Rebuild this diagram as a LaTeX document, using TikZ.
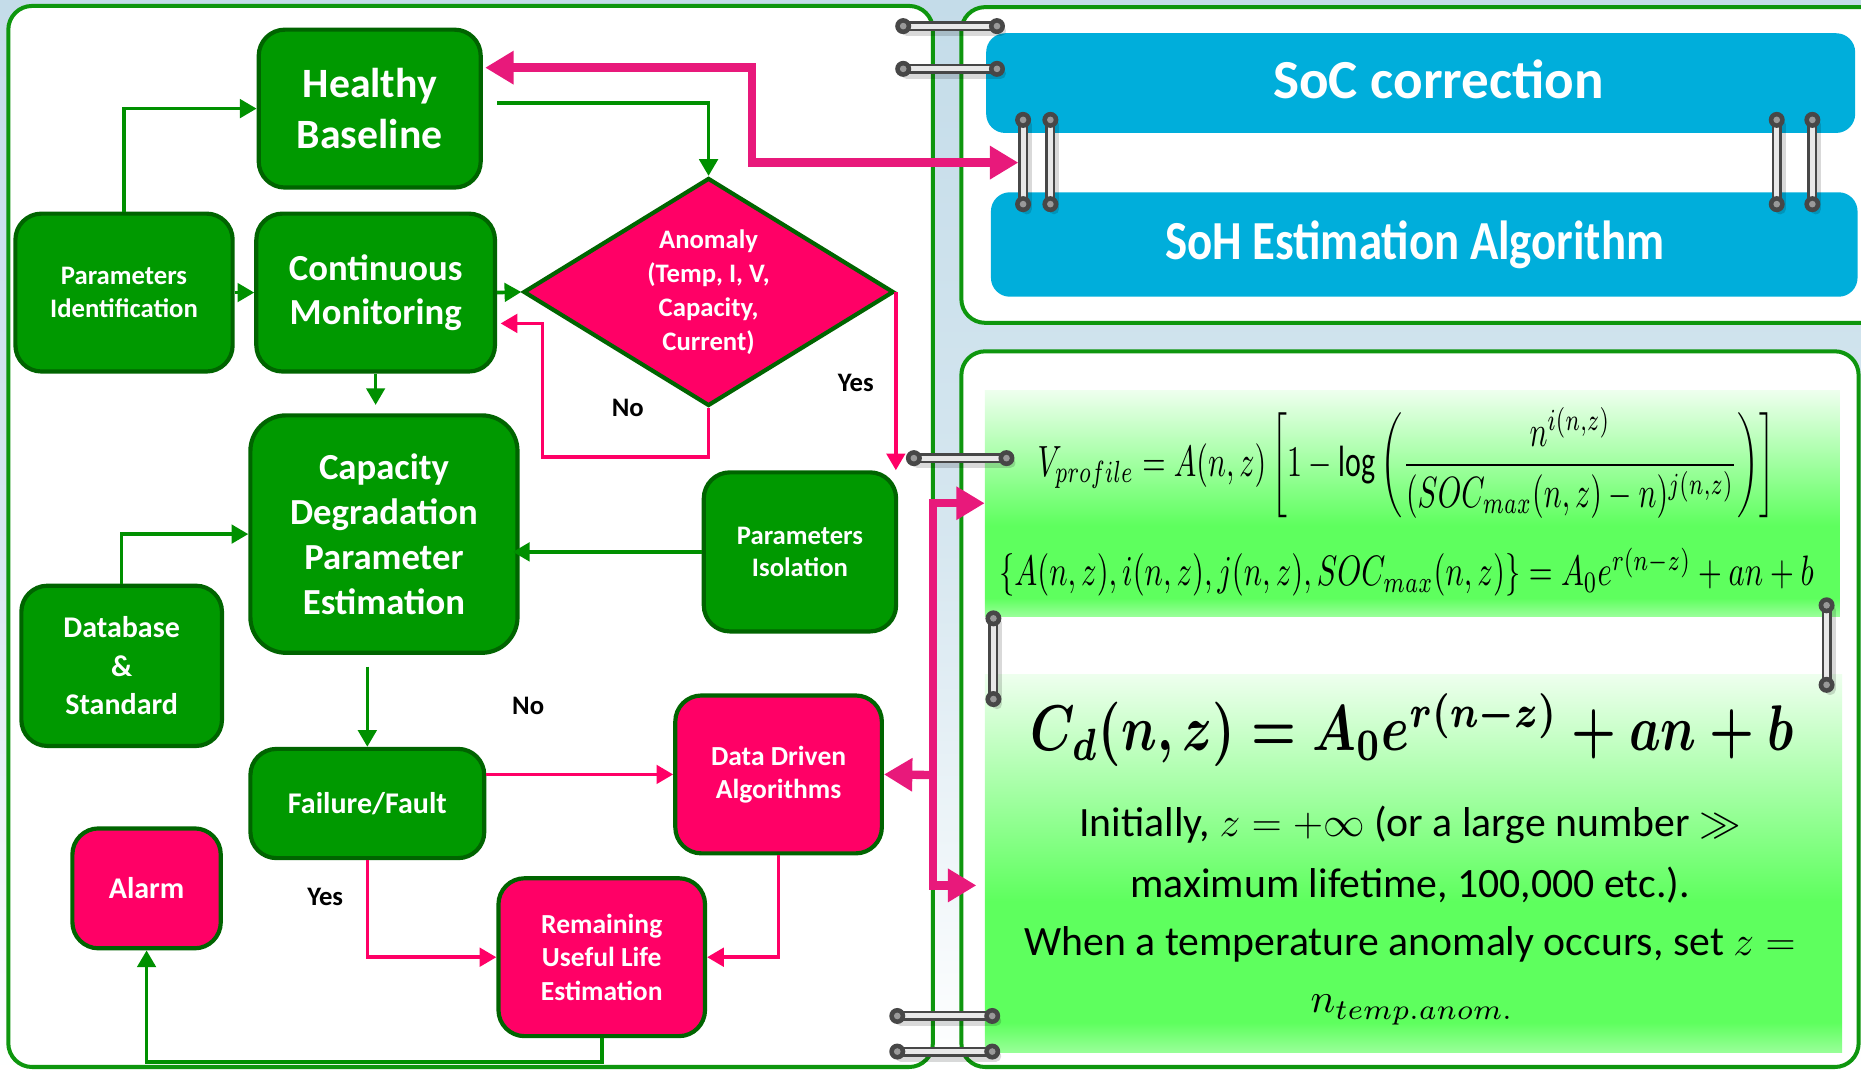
\documentclass[tikz,border=0pt]{standalone}
\usepackage{fontspec}
\setmainfont{Carlito}
\usepackage{amsmath}
\usetikzlibrary{shapes.geometric,arrows.meta,calc}

\definecolor{nodegreen}{HTML}{009900}
\definecolor{edgegreen}{HTML}{006400}
\definecolor{linkgreen}{HTML}{009000}
\definecolor{alertpink}{HTML}{FF0066}
\definecolor{busmagenta}{HTML}{E8197B}
\definecolor{panelgreen}{HTML}{0E960E}
\definecolor{boxblue}{HTML}{00AEDB}
\definecolor{skyblue}{HTML}{C4DCE9}
\definecolor{gtop}{HTML}{EEFFEE}
\definecolor{gmid}{HTML}{5EFF5E}
\definecolor{gbot}{HTML}{99FF99}
\definecolor{ringdark}{HTML}{474747}
\definecolor{ringlight}{HTML}{E8E8E8}

% light green wash of the formula cards: pale at the top, saturated near the bottom
\pgfdeclareverticalshading{formulagreen}{100bp}{color(0bp)=(gbot); color(25bp)=(gbot); color(29bp)=(gmid); color(45bp)=(gmid); color(75bp)=(gtop); color(100bp)=(gtop)}

\newcommand\setfs[2]{\fontsize{#1}{#2}\selectfont}

% a metal binder ring between two points
\newcommand\binderring[2]{%
  \draw[line width=6.5pt, black, opacity=0.15, line cap=round] ($(#1)+(3,4)$) -- ($(#2)+(3,4)$);
  \draw[line width=6pt, ringdark, line cap=round] (#1) -- (#2);
  \draw[line width=3pt, ringlight, shorten <=4pt, shorten >=4pt] (#1) -- (#2);
  \fill[ringdark] (#1) circle (4.8pt);
  \fill[ringdark] (#2) circle (4.8pt);
  \fill[gray!80] (#1) circle (2pt);
  \fill[gray!80] (#2) circle (2pt);
}

\begin{document}
\begin{tikzpicture}[x=0.025cm, y=-0.025cm,
  box/.style={rectangle, rounded corners=0.55cm, draw=edgegreen, line width=2.5pt,
              text=white, align=center, inner sep=2pt},
  gbox/.style={box, fill=nodegreen},
  pbox/.style={box, fill=alertpink},
  panel/.style={draw=panelgreen, line width=2.4pt, fill=white, rounded corners=0.5cm},
  bluebox/.style={rectangle, rounded corners=0.4cm, fill=boxblue},
  bluetext/.style={text=white, font=\bfseries\setfs{33}{38}},
  fcard/.style={rectangle, shading=formulagreen},
  glink/.style={draw=linkgreen, line width=2.2pt, -{Triangle[length=10pt,width=11pt]}},
  plink/.style={draw=alertpink, line width=2.2pt, -{Triangle[length=10pt,width=11pt]}},
  bus/.style={draw=busmagenta, line width=5pt},
  lbl/.style={text=black, font=\bfseries\setfs{16}{19}},
]
\clip (0,0) rectangle (1568,902);

% backdrop
\fill[top color=skyblue, bottom color=white, middle color=skyblue!70!white] (0,0) rectangle (1568,902);

% panels
\draw[panel] (7,5) rectangle (786,899);
\draw[panel] (810,6) rectangle (1620,272);
\draw[panel] (810,296) rectangle (1566,899);

% formula cards
\node[fcard, minimum width=18cm, minimum height=4.75cm] (fa) at (1190,424) {};
\node[fcard, minimum width=18.05cm, minimum height=7.975cm] (fb) at (1191,727.5) {};

\node (eq1) at (1185,390) {\resizebox*{442pt}{66pt}{$V_{profile} = A(n,z)\left[1-\log\left(\dfrac{n^{i(n,z)}}{(SOC_{max}(n,z)-n)^{j(n,z)}}\right)\right]$}};
\node (eq2) at (1185,482) {\resizebox*{488pt}{29pt}{$\{A(n,z),i(n,z),j(n,z),SOC_{max}(n,z)\}=A_0e^{r(n-z)}+an+b$}};
\node (eq3) at (1190,615) {\resizebox*{457pt}{44pt}{\boldmath$C_d(n,z)=A_0e^{r(n-z)}+an+b$}};

\node[font=\setfs{25}{30}] (note1) at (1188,695) {Initially, $z=+\infty$ (or a large number $\gg$};
\node[font=\setfs{25}{30}] (note2) at (1188,746) {maximum lifetime, 100,000 etc.).};
\node[font=\setfs{25}{30}] (note3) at (1188,796) {When a temperature anomaly occurs, set $z=$};
\node (note4) at (1190,851) {\resizebox{122pt}{!}{$n_{temp.anom.}$}};

% blue banners
\node[bluebox, minimum width=18.3cm, minimum height=2.1cm] (soc) at (1197,70) {};
\node[bluetext] (soctext) at (1212,67) {SoC correction};
\node[bluebox, minimum width=18.25cm, minimum height=2.2cm] (soh) at (1200,206) {};
\node[bluetext] (sohtext) at (1192,206) {\scalebox{0.85}[1]{SoH Estimation Algorithm}};

% flowchart blocks
\node[gbox, minimum width=4.675cm, minimum height=3.325cm, font=\bfseries\setfs{25}{31}] (hb) at (311.5,91.5) {Healthy\\Baseline};
\node[gbox, minimum width=4.575cm, minimum height=3.325cm, font=\bfseries\setfs{16}{19.5}] (pid) at (104.5,246.5) {Parameters\\Identification};
\node[gbox, minimum width=5.025cm, minimum height=3.325cm, font=\bfseries\setfs{22}{26.5}] (cm) at (316.5,246.5) {Continuous\\Monitoring};
\node[diamond, aspect=1.6, draw=edgegreen, line width=2.5pt, fill=alertpink, text=white, align=center,
      minimum width=7.8cm, minimum height=4.8cm, inner sep=0pt, font=\bfseries\setfs{16}{20.3}] (an) at (597,246) {Anomaly\\(Temp, I, V,\\Capacity,\\Current)};
\node[gbox, minimum width=5.625cm, minimum height=5cm, rounded corners=0.75cm, font=\bfseries\setfs{22}{27}] (cap) at (323.5,450) {Capacity\\Degradation\\Parameter\\Estimation};
\node[gbox, minimum width=4.05cm, minimum height=3.35cm, font=\bfseries\setfs{16}{19.5}] (piso) at (674,465) {Parameters\\Isolation};
\node[gbox, minimum width=4.225cm, minimum height=3.375cm, font=\bfseries\setfs{18}{23}] (db) at (102.5,561) {Database\\\&\\Standard};
\node[gbox, minimum width=4.925cm, minimum height=2.3cm, font=\bfseries\setfs{18}{22}] (ff) at (309.5,677) {Failure/Fault};
\node[pbox, minimum width=4.35cm, minimum height=3.325cm, font=\bfseries\setfs{16.5}{19.5}] (dda) at (656,652.5) {Data Driven\\Algorithms};
\node[pbox, minimum width=3.125cm, minimum height=2.525cm, font=\bfseries\setfs{18}{22}] (alarm) at (123.5,748.5) {Alarm};
\node[pbox, minimum width=4.35cm, minimum height=3.325cm, font=\bfseries\setfs{16.5}{20}] (rul) at (507,806.5) {Remaining\\Useful Life\\Estimation};

% green links
\draw[glink] (pid.north) |- (hb.west);
\draw[glink] (pid.east) -- (cm.west);
\draw[glink] ($(hb.east)+(12,-4.5)$) -| (an.north);
\draw[glink] (cm.east) -- (an.west);
\draw[glink, shorten >=5pt] (cm.south) -- (cm.south |- cap.north);
\draw[glink] (db.north) |- (cap.west);
\draw[glink, shorten >=-4pt] (piso.west) -- (piso.west -| cap.east);
\draw[glink, shorten <=7pt] (cap.south -| ff.north) -- (ff.north);
\draw[glink] (rul.south) -- ++(0,20) -| (alarm.south);

% pink links
\draw[plink] (an.south) -- ++(0,41) -- ++(-140,0) |- ($(cm.east)+(3,26)$);
\draw[plink] (an.east) -- (an.east |- piso.north);
\draw[plink] (dda.west -| ff.east) -- (dda.west);
\draw[plink] (ff.south) |- (rul.west);
\draw[plink] (dda.south) |- (rul.east);

% decision labels
\node[lbl] (no1) at (529,344) {No};
\node[lbl] (yes1) at (721,323) {Yes};
\node[lbl] (no2) at (445,595) {No};
\node[lbl] (yes2) at (274,756) {Yes};

% thick magenta buses
\coordinate (gapL) at (858,137);
\draw[bus, {Triangle[length=17pt,width=19pt]}-{Triangle[length=17pt,width=19pt]}] ($(hb.east)+(2,-34.5)$) -- ++(225,0) |- (gapL);
\coordinate (hub) at (786,653);
\draw[bus, -{Triangle[length=17pt,width=19pt]}] (hub) -- (dda.east);
\draw[bus, -{Triangle[length=17pt,width=19pt]}] (hub) |- (fa.west);
\draw[bus, -{Triangle[length=17pt,width=19pt]}] (hub) |- ($(fb.west)+(-7,18.5)$);

% binder rings
\binderring{761,22}{840,22}
\binderring{761,58}{840,58}
\binderring{770,386}{848,386}
\binderring{756,856}{836,856}
\binderring{756,886}{836,886}
\binderring{862,101}{862,172}
\binderring{885,101}{885,172}
\binderring{1497,101}{1497,172}
\binderring{1527,101}{1527,172}
\binderring{837,521}{837,589}
\binderring{1539,510}{1539,577}
\end{tikzpicture}
\end{document}
